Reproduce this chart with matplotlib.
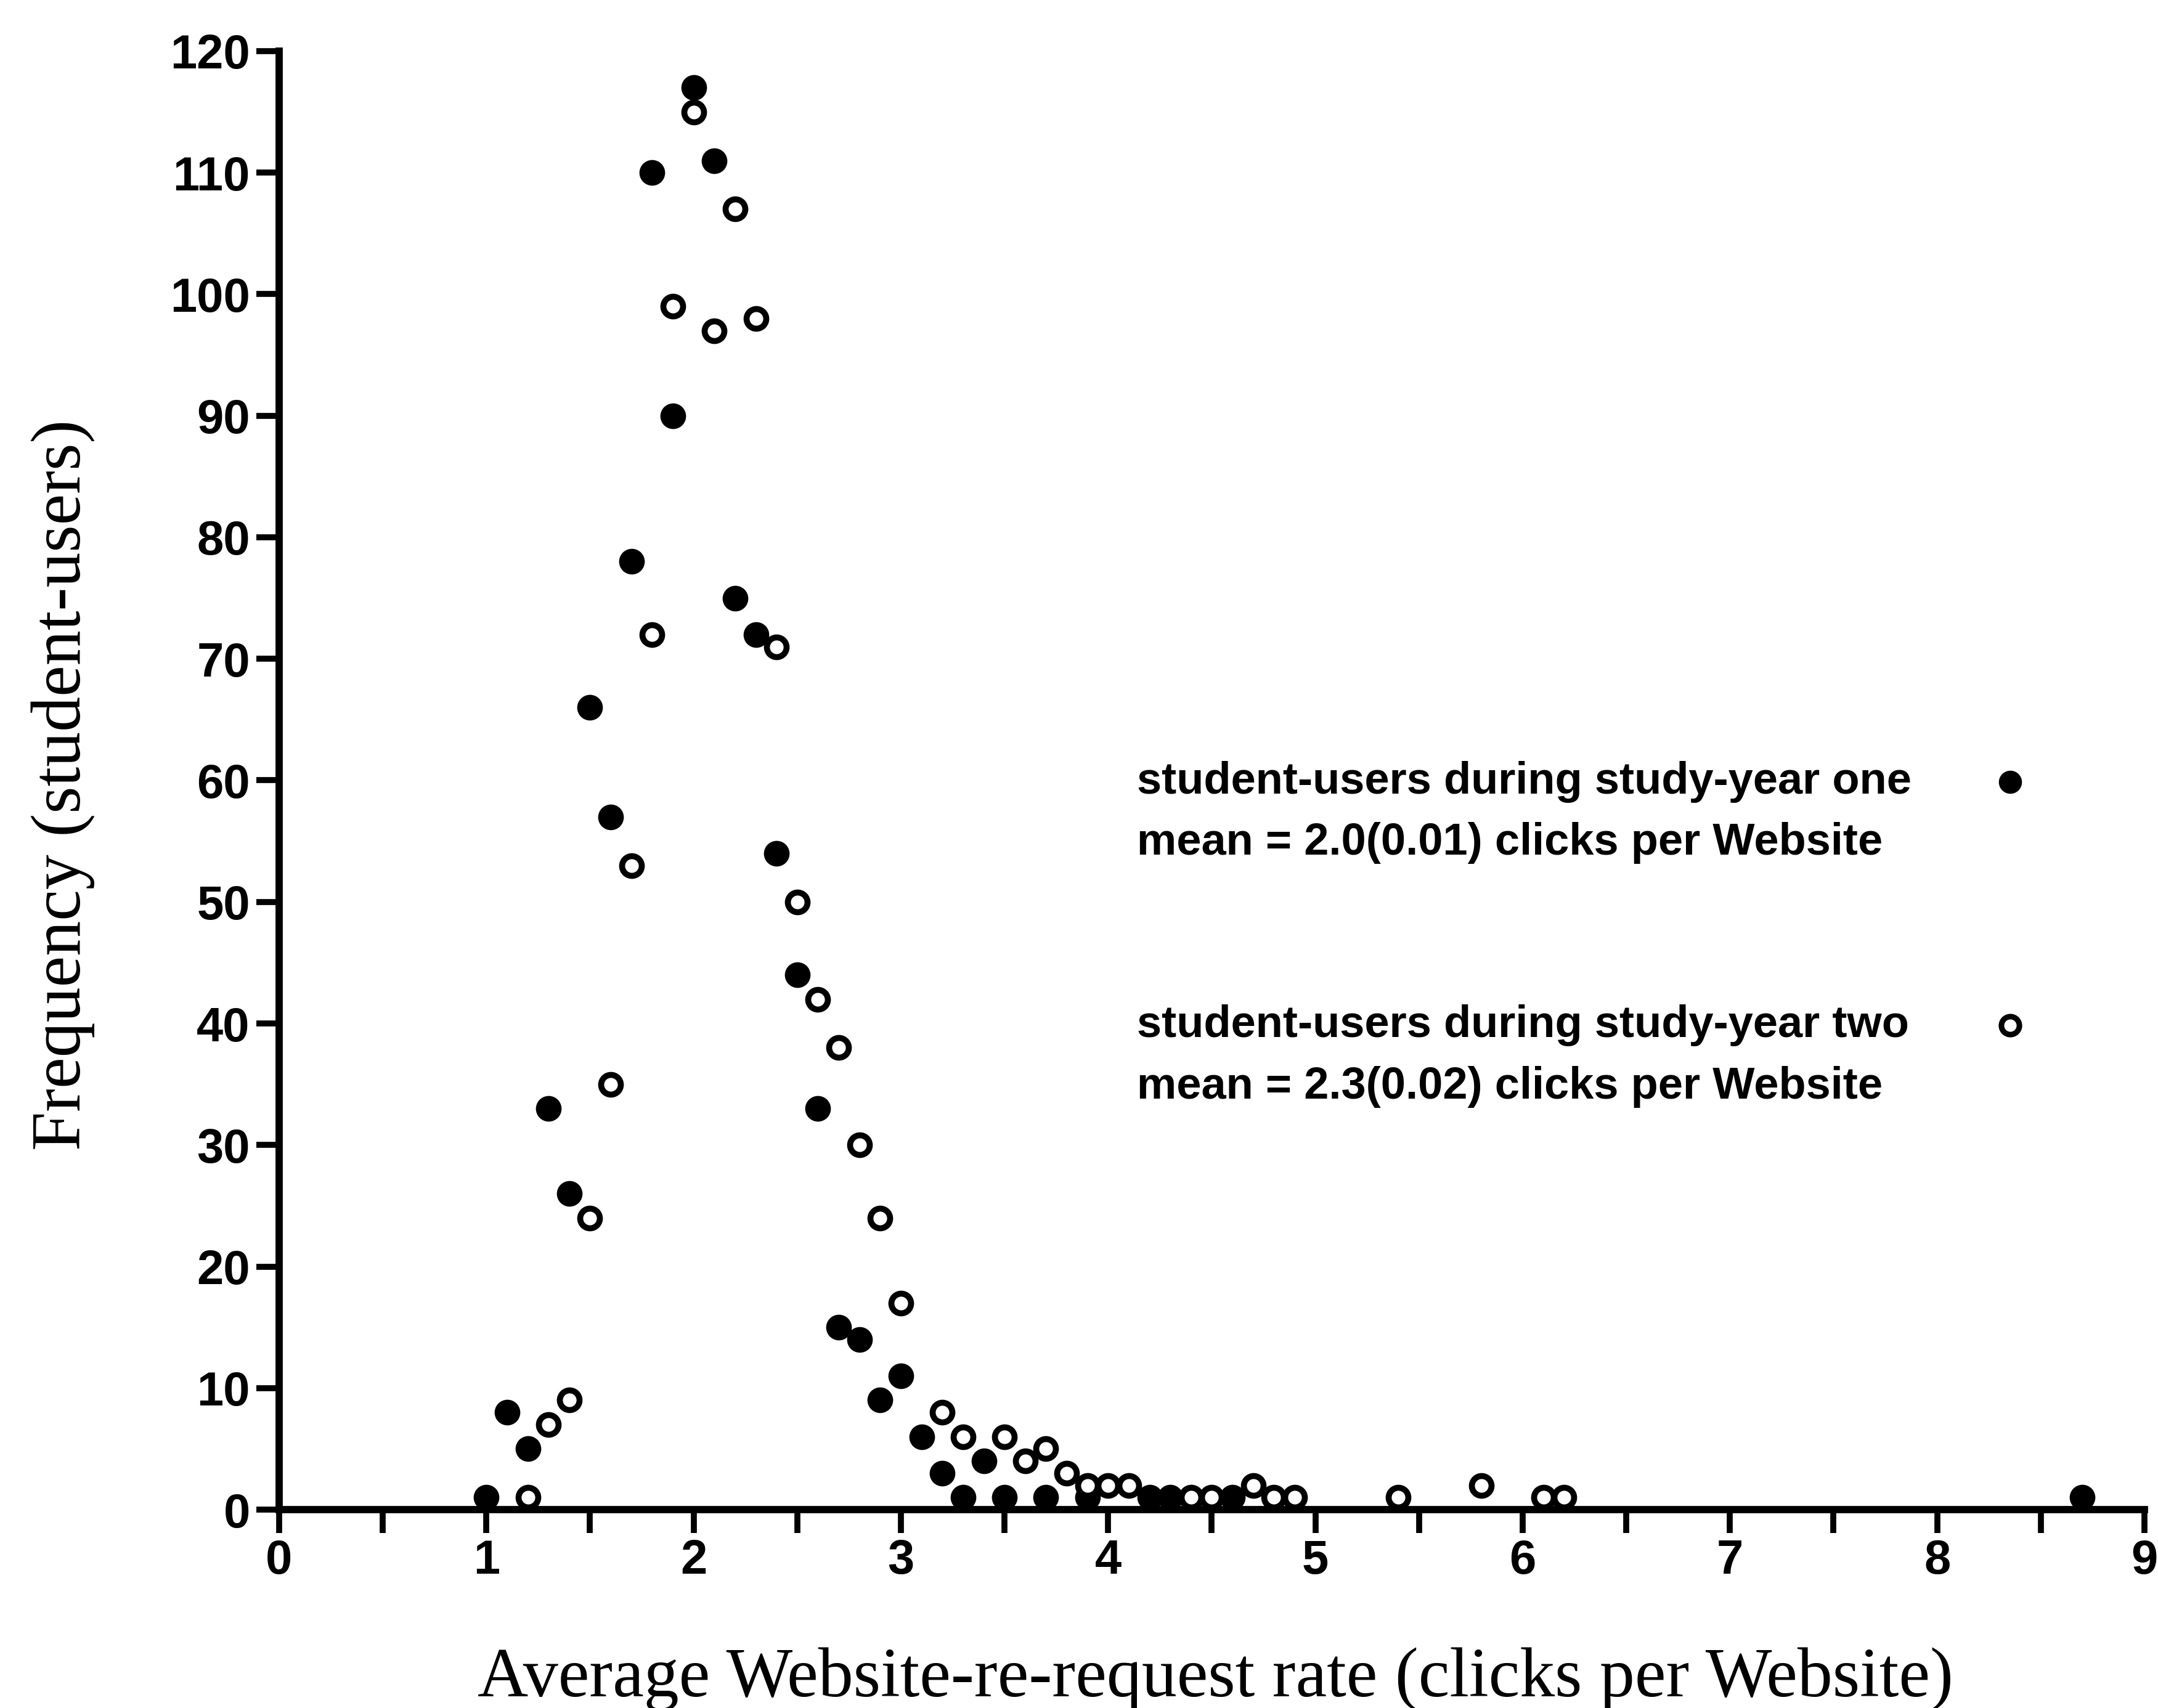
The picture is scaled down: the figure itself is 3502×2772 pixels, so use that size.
import matplotlib
matplotlib.use("Agg")
import matplotlib.pyplot as plt
from matplotlib import font_manager
from matplotlib.ticker import MultipleLocator

# Re-request rate bins (clicks per Website) and student-user counts
year_one_rate = [1.0, 1.1, 1.2, 1.3, 1.4, 1.5, 1.6, 1.7, 1.8, 1.9, 2.0, 2.1, 2.2, 2.3,
                 2.4, 2.5, 2.6, 2.7, 2.8, 2.9, 3.0, 3.1, 3.2, 3.3, 3.4, 3.5, 3.7, 3.9,
                 4.2, 4.3, 4.6, 8.7]
year_one_freq = [1, 8, 5, 33, 26, 66, 57, 78, 110, 90, 117, 111, 75, 72,
                 54, 44, 33, 15, 14, 9, 11, 6, 3, 1, 4, 1, 1, 1,
                 1, 1, 1, 1]

year_two_rate = [1.2, 1.3, 1.4, 1.5, 1.6, 1.7, 1.8, 1.9, 2.0, 2.1, 2.2, 2.3, 2.4, 2.5,
                 2.6, 2.7, 2.8, 2.9, 3.0, 3.2, 3.3, 3.5, 3.6, 3.7, 3.8, 3.9, 4.0, 4.1,
                 4.4, 4.5, 4.7, 4.8, 4.9, 5.4, 5.8, 6.1, 6.2]
year_two_freq = [1, 7, 9, 24, 35, 53, 72, 99, 115, 97, 107, 98, 71, 50,
                 42, 38, 30, 24, 17, 8, 6, 6, 4, 5, 3, 2, 2, 2,
                 1, 1, 2, 1, 1, 1, 2, 1, 1]

key_labels = ["student-users during study-year one\nmean = 2.0(0.01) clicks per Website",
              "student-users during study-year two\nmean = 2.3(0.02) clicks per Website"]


def pick_font(*names):
    installed = {f.name for f in font_manager.fontManager.ttflist}
    for name in names:
        if name in installed:
            return name
    return "DejaVu Sans"


sans = pick_font("Liberation Sans Narrow", "Liberation Sans")
serif = pick_font("Liberation Serif", "DejaVu Serif")

fig = plt.figure(figsize=(35.02, 27.72), dpi=100)
ax = fig.add_axes([0.12935, 0.11616, 0.86436, 0.85390])

# year one: filled dots, year two: open circles drawn on top
ax.plot(year_one_rate, year_one_freq, "o", ms=30, mfc="black", mec="black",
        mew=0, clip_on=False, zorder=3)
ax.plot(year_two_rate, year_two_freq, "o", ms=23, mfc="white", mec="black",
        mew=7, clip_on=False, zorder=4)

ax.set_xlim(0, 9)
ax.set_ylim(0, 120)
ax.xaxis.set_major_locator(MultipleLocator(1))
ax.xaxis.set_minor_locator(MultipleLocator(0.5))
ax.yaxis.set_major_locator(MultipleLocator(10))

for side in ["top", "right"]:
    ax.spines[side].set_visible(False)
for side in ["left", "bottom"]:
    ax.spines[side].set_linewidth(8.5)

ax.tick_params(axis="both", which="both", direction="out", length=27, width=7, pad=7)
for lbl in ax.get_xticklabels() + ax.get_yticklabels():
    lbl.set_fontfamily(sans)
    lbl.set_fontweight("bold")
    lbl.set_fontsize(56)

ax.text(0.502, -0.128, "Average Website-re-request rate (clicks per Website)",
        transform=ax.transAxes, ha="center", va="baseline",
        family=serif, fontsize=82)
ax.text(-0.1067, 0.497, "Frequency (student-users)", transform=ax.transAxes,
        rotation=90, rotation_mode="anchor", ha="center", va="baseline",
        family=serif, fontsize=82)

# key: text block with its marker beside the first line
key_y = [0.499, 0.332]
key_style = [dict(ms=27, mfc="black", mec="black", mew=0),
             dict(ms=21, mfc="white", mec="black", mew=6.5)]
for label, y, style in zip(key_labels, key_y, key_style):
    first, second = label.split("\n")
    ax.text(0.460, y, first, transform=ax.transAxes, ha="left", va="center",
            family=sans, fontweight="bold", fontsize=52)
    ax.text(0.460, y - 0.042, second, transform=ax.transAxes, ha="left", va="center",
            family=sans, fontweight="bold", fontsize=52)
    ax.plot([0.928], [y], "o", transform=ax.transAxes, clip_on=False, **style)

fig.savefig("out.png", dpi=100)
